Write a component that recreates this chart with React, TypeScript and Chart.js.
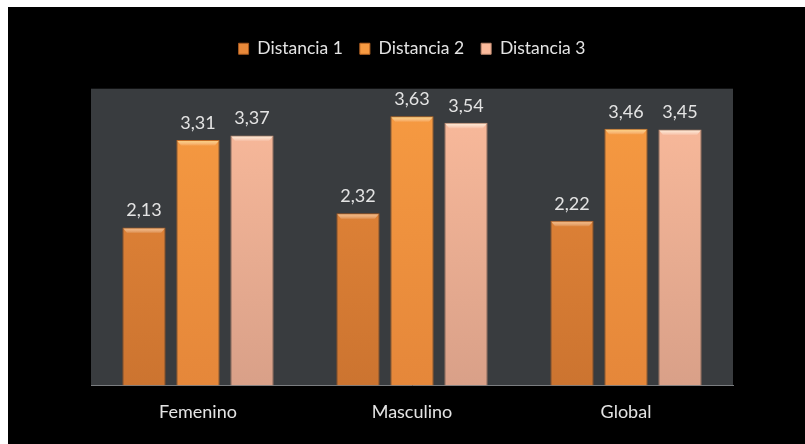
import React, { useEffect, useRef } from "react";
import { Chart, registerables } from "chart.js";

Chart.register(...registerables);

const categories = ["Femenino", "Masculino", "Global"];
const seriesNames = ["Distancia 1", "Distancia 2", "Distancia 3"];
const distancia1 = [2.13, 2.32, 2.22];
const distancia2 = [3.31, 3.63, 3.46];
const distancia3 = [3.37, 3.54, 3.45];
const yMax = 4;

const gradStops: [string, string][] = [
  ["#e8893a", "#cc7430"],
  ["#f79b42", "#e5873a"],
  ["#fbbb9c", "#d9a088"],
];
const topHighlight = ["#f5b070", "#fcd070", "#fff0d8"];
const borderCols = ["#a85a20", "#c06a25", "#c08a70"];

export default function App() {
  const ref = useRef<HTMLCanvasElement>(null);
  useEffect(() => {
    const canvas = ref.current!;
    const grad = (i: number) => (ctx: any) => {
      const chart = ctx.chart;
      const ca = chart.chartArea;
      if (!ca) return gradStops[i][0];
      const g = chart.ctx.createLinearGradient(0, ca.top, 0, ca.bottom);
      g.addColorStop(0, gradStops[i][0]);
      g.addColorStop(1, gradStops[i][1]);
      return g;
    };
    const bgPlugin = {
      id: "bg",
      beforeDraw(chart: any) {
        const c = chart.ctx;
        c.save();
        c.fillStyle = "#000000";
        c.fillRect(0, 0, chart.width, chart.height);
        const ca = chart.chartArea;
        c.fillStyle = "#393c3f";
        c.fillRect(ca.left, ca.top, ca.right - ca.left, ca.bottom - ca.top);
        c.restore();
      },
    };
    const labelPlugin = {
      id: "labels",
      afterDatasetsDraw(chart: any) {
        const c = chart.ctx;
        c.save();
        chart.data.datasets.forEach((ds: any, di: number) => {
          const meta = chart.getDatasetMeta(di);
          meta.data.forEach((bar: any) => {
            const w = bar.width;
            const x0 = bar.x - w / 2 + 1;
            const g = c.createLinearGradient(0, bar.y, 0, bar.y + 6);
            g.addColorStop(0, topHighlight[di]);
            g.addColorStop(1, "rgba(255,255,255,0)");
            c.fillStyle = g;
            c.beginPath();
            c.moveTo(x0, bar.y + 1);
            c.lineTo(x0 + w - 2, bar.y + 1);
            c.lineTo(x0 + w - 6, bar.y + 6);
            c.lineTo(x0 + 4, bar.y + 6);
            c.closePath();
            c.fill();
          });
        });
        c.fillStyle = "#e4e4e4";
        c.font = "18px Lato";
        c.textAlign = "center";
        c.textBaseline = "bottom";
        chart.data.datasets.forEach((ds: any, di: number) => {
          const meta = chart.getDatasetMeta(di);
          meta.data.forEach((bar: any, i: number) => {
            const v = ds.data[i] as number;
            c.fillText(v.toFixed(2).replace(".", ","), bar.x, bar.y - 8);
          });
        });
        c.restore();
      },
    };
    const data = [distancia1, distancia2, distancia3];
    const chart = new Chart(canvas, {
      type: "bar",
      data: {
        labels: categories,
        datasets: seriesNames.map((n, i) => ({
          label: n,
          data: data[i],
          backgroundColor: grad(i),
          borderColor: borderCols[i],
          borderWidth: 1,
          categoryPercentage: 0.757,
          barPercentage: 0.8,
        })),
      },
      options: {
        responsive: false,
        animation: false,
        layout: { padding: { left: 83, right: 72, top: 16, bottom: 13 } },
        plugins: {
          legend: {
            position: "top",
            weight: 3000,
            labels: {
              color: "#e4e4e4",
              font: { family: "Lato", size: 17.5 },
              boxWidth: 10,
              boxHeight: 11,
              padding: 17,
            },
          },
          subtitle: {
            display: true,
            text: "",
            font: { size: 1 },
            padding: { top: 20, bottom: 0 },
          },
          tooltip: { enabled: false },
        },
        scales: {
          x: {
            grid: { display: false },
            border: { display: true, color: "#7a7d80", width: 1 },
            ticks: { color: "#e4e4e4", font: { family: "Lato", size: 18 }, padding: 8 },
          },
          y: {
            display: false,
            min: 0,
            max: yMax,
          },
        },
      },
      plugins: [bgPlugin, labelPlugin],
    });
    return () => chart.destroy();
  }, []);
  return (
    <div style={{ position: "absolute", left: 8, top: 7, width: 797, height: 437, background: "#000" }}>
      <canvas ref={ref} width={797} height={437} style={{ display: "block" }} />
    </div>
  );
}
